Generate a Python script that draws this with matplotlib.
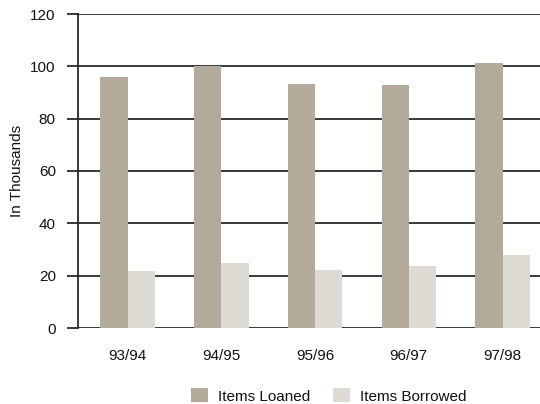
import matplotlib
matplotlib.use("Agg")
import matplotlib.pyplot as plt
import numpy as np

categories = ["93/94", "94/95", "95/96", "96/97", "97/98"]
items_loaned = [96.0, 100.0, 93.3, 92.9, 101.3]
items_borrowed = [21.8, 24.9, 22.2, 23.7, 27.9]
y_ticks = [0, 20, 40, 60, 80, 100, 120]

plt.rcParams['font.family'] = ['Liberation Sans', 'DejaVu Sans']

c_loan = "#b3aa9c"
c_borr = "#dedad4"
grid_c = "#2a2a2a"

fig = plt.figure(figsize=(5.4, 4.04), dpi=100)
ax = fig.add_axes([78/540, (404-328)/404, 1 - 78/540, (328-14)/404])

x = np.arange(len(categories))
w = 0.29
ax.bar(x - w/2, items_loaned, width=w, color=c_loan, label="Items Loaned", zorder=3)
ax.bar(x + w/2, items_borrowed, width=w, color=c_borr, label="Items Borrowed", zorder=3)

ax.set_ylim(0, 120)
ax.set_xlim(-0.53, 4.40)
ax.set_yticks(y_ticks)
ax.set_xticks(x)
ax.set_xticklabels(categories)
ax.yaxis.grid(True, color=grid_c, linewidth=1.3, zorder=1)
ax.set_axisbelow(True)

for s in ["top", "right", "bottom"]:
    ax.spines[s].set_visible(False)
ax.spines["left"].set_color(grid_c)
ax.spines["left"].set_linewidth(1.3)

ax.tick_params(axis="y", direction="out", length=8, width=1.3, color=grid_c,
               pad=8, labelsize=11, labelcolor="#111111")
ax.tick_params(axis="x", length=0, pad=15, labelsize=11, labelcolor="#111111")

fig.text(17/540, 1 - 171/404, "In Thousands", rotation=90, ha="center", va="center",
         fontsize=11, color="#111111")

fig.legend(loc="center", bbox_to_anchor=(329/540, 1 - 396/404), ncol=2, frameon=False,
           fontsize=11, handlelength=1.1, handleheight=1.0, handletextpad=0.65,
           columnspacing=1.5, labelcolor="#111111")

fig.savefig("out.png", dpi=100)
